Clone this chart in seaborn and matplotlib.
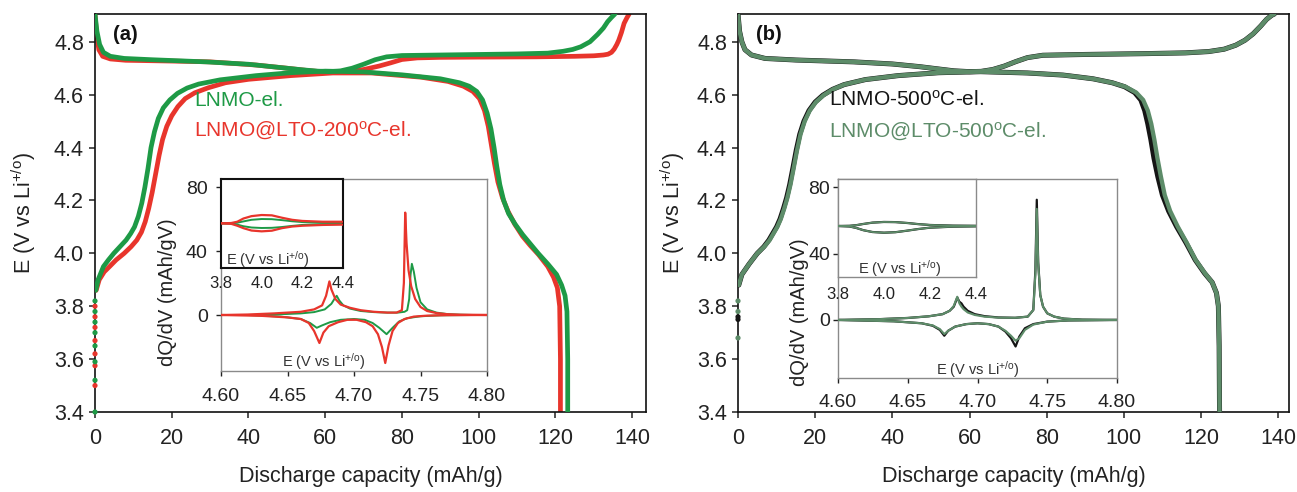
import pandas as pd
import seaborn as sns
import matplotlib.pyplot as plt

# +---------------------------+
# | Datos |
# +---------------------------+

# (a) curvas de carga (arriba) y descarga (abajo)
a_verde_x_carga = [0, 0.5, 1.2, 2.2, 4, 7.6, 15, 29, 40, 46, 50, 54, 58, 61, 64, 67, 70, 73, 76, 80,
                   90, 100, 110, 118, 122, 124.5, 126.6, 129, 131, 132.5, 133.6, 134.6, 135.5]
a_verde_y_carga = [4.905, 4.84, 4.79, 4.76, 4.745, 4.737, 4.732, 4.724, 4.715, 4.706, 4.70, 4.694, 4.689,
                   4.687, 4.690, 4.700, 4.715, 4.732, 4.743, 4.748, 4.750, 4.752, 4.754, 4.757, 4.764,
                   4.771, 4.781, 4.800, 4.828, 4.852, 4.876, 4.892, 4.905]
a_rojo_x_carga = [0, 0.4, 1, 2, 4, 8, 20, 30, 42, 50, 55, 58, 62, 66, 70, 74, 77, 80, 84, 90, 100, 115,
                  125, 130, 132.5, 133.7, 134.6, 135.3, 136, 136.5, 137.2, 137.9, 138.6, 139.2]
a_rojo_y_carga = [4.905, 4.83, 4.77, 4.745, 4.735, 4.73, 4.727, 4.724, 4.712, 4.700, 4.692, 4.688, 4.686,
                  4.688, 4.695, 4.708, 4.720, 4.733, 4.739, 4.741, 4.742, 4.743, 4.745, 4.747, 4.750,
                  4.753, 4.760, 4.772, 4.790, 4.806, 4.835, 4.87, 4.89, 4.905]

a_verde_x_desc = [0.2, 0.8, 2.2, 3.5, 4.9, 6.5, 8.1, 9.3, 10.3, 11.3, 12.2, 13.0, 13.8, 14.6, 15.5,
                  16.5, 17.8, 19.5, 21.5, 24, 27, 32.6, 42, 51, 60, 70, 80, 90, 95, 97.5, 99.5, 101,
                  102.2, 103.2, 104.0, 104.7, 105.5, 106.5, 107.8, 109.5, 111.5, 113.5, 115.5, 118,
                  120.3, 121.6, 122.5, 123.0, 123.2, 123.2]
a_verde_y_desc = [3.86, 3.90, 3.95, 3.975, 4.00, 4.025, 4.05, 4.075, 4.10, 4.14, 4.19, 4.25, 4.32,
                  4.40, 4.46, 4.51, 4.55, 4.58, 4.605, 4.625, 4.64, 4.656, 4.672, 4.683, 4.689, 4.686,
                  4.675, 4.66, 4.645, 4.632, 4.612, 4.58, 4.53, 4.47, 4.40, 4.33, 4.26, 4.20, 4.15,
                  4.11, 4.07, 4.035, 4.00, 3.96, 3.92, 3.88, 3.84, 3.78, 3.60, 3.40]
a_rojo_x_desc = [0.3, 1.1, 2.4, 3.8, 5.5, 7.6, 9.4, 10.9, 12.1, 13.1, 14.0, 14.9, 15.8, 16.7, 17.6,
                 18.7, 20.0, 21.6, 23.5, 26, 29.5, 34, 40, 51, 62, 72, 85, 92, 96, 98.5, 100.2, 101.5,
                 102.5, 103.3, 104.1, 105.0, 106.2, 107.6, 109.4, 111.4, 113.4, 115.6, 118, 119.5,
                 120.5, 121.1, 121.3, 121.3]
a_rojo_y_desc = [3.86, 3.90, 3.93, 3.95, 3.975, 4.00, 4.025, 4.05, 4.08, 4.12, 4.17, 4.23, 4.30, 4.37,
                 4.43, 4.48, 4.52, 4.555, 4.585, 4.607, 4.626, 4.645, 4.658, 4.672, 4.682, 4.682,
                 4.666, 4.65, 4.632, 4.612, 4.585, 4.54, 4.48, 4.41, 4.34, 4.27, 4.21, 4.16, 4.11,
                 4.065, 4.03, 3.995, 3.95, 3.91, 3.87, 3.80, 3.60, 3.40]

# puntos sueltos en x = 0
a_verde_puntos = [3.40, 3.52, 3.59, 3.65, 3.70, 3.74, 3.78, 3.82]
a_rojo_puntos = [3.50, 3.575, 3.62, 3.67, 3.72, 3.76, 3.80]

# (a) dQ/dV, ventana 4.60-4.80 V
a_verde_E_carga = [4.62, 4.64, 4.66, 4.670, 4.678, 4.683, 4.686, 4.687, 4.689, 4.692, 4.697, 4.705, 4.715,
                   4.725, 4.733, 4.738, 4.740, 4.7415, 4.7425, 4.7435, 4.745, 4.747, 4.750, 4.755, 4.762,
                   4.770, 4.780, 4.790]
a_verde_Q_carga = [0, 0.3, 1.0, 1.8, 3.5, 7, 11, 12, 9, 6, 4, 2.5, 1.8, 1.5, 1.5, 2, 3, 10, 25, 32, 27,
                   17, 8, 3.5, 1.5, 0.6, 0.2, 0]
a_rojo_E_carga = [4.60, 4.62, 4.64, 4.66, 4.670, 4.676, 4.679, 4.6815, 4.683, 4.686, 4.690, 4.697, 4.705,
                  4.715, 4.725, 4.732, 4.736, 4.7375, 4.7385, 4.7395, 4.741, 4.743, 4.746, 4.750, 4.755,
                  4.762, 4.770, 4.780, 4.800]
a_rojo_Q_carga = [0, 0.3, 1.0, 2.0, 3.5, 6, 12, 21, 16, 10, 6.5, 4.5, 3, 2, 1.5, 1.5, 3, 20, 64, 45, 28,
                  18, 10, 5, 2.5, 1.2, 0.5, 0.2, 0]
a_rojo_E_desc = [4.60, 4.63, 4.65, 4.660, 4.666, 4.670, 4.674, 4.677, 4.681, 4.688, 4.695, 4.702, 4.709,
                 4.714, 4.718, 4.721, 4.7235, 4.726, 4.729, 4.733, 4.738, 4.745, 4.755, 4.770, 4.800]
a_rojo_Q_desc = [0, -0.5, -1.5, -2.5, -5, -10, -17.5, -11, -7, -4.5, -3, -3, -4.5, -7, -12, -20, -30,
                 -19, -10, -5, -2.5, -1, -0.4, -0.1, 0]
a_verde_E_desc = [4.62, 4.645, 4.660, 4.667, 4.672, 4.676, 4.682, 4.690, 4.700, 4.708, 4.714, 4.719,
                  4.7245, 4.729, 4.734, 4.740, 4.750, 4.765, 4.790]
a_verde_Q_desc = [0, -1, -2.5, -5, -8, -6.5, -4.5, -3, -2.5, -3, -5, -8, -12, -8, -4, -2, -0.8, -0.2, 0]

# (a) dQ/dV, ventana 3.8-4.4 V
E_bajo = [3.80, 3.85, 3.88, 3.91, 3.95, 4.00, 4.05, 4.10, 4.15, 4.20, 4.30, 4.40]
a_rojo_bajo_arriba = [0, 0.2, 1.0, 3.0, 4.5, 5.2, 5.0, 3.5, 2.2, 1.5, 1.0, 1.0]
a_rojo_bajo_abajo = [0, -0.3, -1.5, -3.0, -4.5, -5.0, -4.6, -3.0, -2.0, -1.5, -1.0, -0.8]
a_verde_bajo_arriba = [0, 0.1, 0.4, 1.2, 2.2, 2.7, 2.6, 2.0, 1.3, 0.8, 0.4, 0.3]
a_verde_bajo_abajo = [0, -0.2, -0.8, -1.8, -2.6, -2.9, -2.8, -2.3, -1.6, -1.0, -0.5, -0.4]

# (b) curvas de carga y descarga
b_x_carga = [0, 0.4, 1, 1.8, 3.5, 7, 15, 30, 40, 47, 52, 56, 60, 63, 66, 69, 72, 75, 79, 90, 105, 116,
             122, 126, 129, 131.4, 133.5, 135.5, 137, 138.3, 139]
b_y_carga = [4.905, 4.84, 4.8, 4.77, 4.75, 4.737, 4.731, 4.724, 4.716, 4.706, 4.697, 4.69, 4.687, 4.688,
             4.695, 4.708, 4.725, 4.740, 4.749, 4.752, 4.755, 4.758, 4.763, 4.772, 4.787, 4.806, 4.83,
             4.86, 4.885, 4.90, 4.905]
b_verde_x_desc = [0.2, 1, 2.9, 5, 6.8, 8.2, 9.2, 10.2, 11.1, 12.0, 12.8, 13.6, 14.4, 15.3, 16.2, 17.3,
                  18.6, 20.2, 22.2, 24.6, 27.5, 33, 41.5, 52, 62.9, 75, 84.3, 92, 97, 100.4, 103.2,
                  105.0, 106.2, 107.1, 107.9, 108.7, 109.6, 110.6, 112.0, 114.0, 116.3, 118.6, 121,
                  122.9, 124.0, 124.5, 124.7, 124.8]
b_verde_y_desc = [3.88, 3.92, 3.96, 4.00, 4.025, 4.05, 4.075, 4.10, 4.13, 4.17, 4.21, 4.26, 4.32,
                  4.39, 4.45, 4.50, 4.54, 4.572, 4.598, 4.62, 4.638, 4.657, 4.672, 4.683, 4.687, 4.682,
                  4.674, 4.66, 4.645, 4.63, 4.608, 4.58, 4.54, 4.49, 4.43, 4.36, 4.29, 4.22, 4.16,
                  4.10, 4.04, 3.975, 3.925, 3.89, 3.85, 3.80, 3.65, 3.40]
b_negro_x_desc = [0.2, 1, 2.9, 5, 6.7, 8.0, 9.0, 10.0, 10.9, 11.8, 12.6, 13.4, 14.2, 15.1, 16.0, 17.1,
                  18.4, 20.0, 22.0, 24.5, 27.5, 33, 41.5, 52, 62.9, 75, 84.3, 92, 97, 100.2, 102.8,
                  104.4, 105.4, 106.2, 107.0, 107.8, 108.8, 110.0, 111.6, 113.7, 116.1, 118.5, 120.9,
                  122.9, 124.0, 124.5, 124.7, 124.8]
b_negro_y_desc = [3.88, 3.92, 3.96, 4.00, 4.025, 4.05, 4.075, 4.10, 4.13, 4.17, 4.21, 4.26, 4.32,
                  4.39, 4.45, 4.50, 4.54, 4.572, 4.598, 4.62, 4.638, 4.657, 4.672, 4.683, 4.687, 4.682,
                  4.674, 4.66, 4.645, 4.63, 4.608, 4.58, 4.54, 4.49, 4.43, 4.36, 4.29, 4.22, 4.16,
                  4.10, 4.04, 3.975, 3.925, 3.89, 3.85, 3.80, 3.65, 3.40]
b_verde_puntos = [3.68, 3.78, 3.82]
b_negro_puntos = [3.75, 3.76]

# (b) dQ/dV, ventana 4.60-4.80 V
b_E_carga = [4.60, 4.63, 4.65, 4.665, 4.675, 4.680, 4.683, 4.6855, 4.687, 4.6885, 4.690, 4.693, 4.698,
             4.705, 4.715, 4.727, 4.736, 4.740, 4.7415, 4.7425, 4.7435, 4.745, 4.747, 4.750, 4.755,
             4.762, 4.775, 4.800]
b_negro_Q_carga = [0, 0.5, 1.2, 2.2, 3.5, 5.5, 8, 13.5, 11, 10, 8, 5.5, 3.5, 2.3, 1.5, 1.3, 2, 6, 30,
                   72.5, 35, 15, 8, 4, 2, 0.8, 0.2, 0]
b_verde_Q_carga = [0, 0.5, 1.2, 2.2, 3.5, 5.5, 8.5, 14, 10, 8, 6.5, 4.5, 3, 2, 1.4, 1.3, 2, 6, 28, 67,
                   34, 15, 8, 4, 2, 0.8, 0.2, 0]
b_E_desc = [4.60, 4.64, 4.660, 4.668, 4.673, 4.6762, 4.679, 4.684, 4.692, 4.700, 4.708, 4.715, 4.720,
            4.724, 4.7273, 4.730, 4.734, 4.740, 4.750, 4.765, 4.800]
b_negro_Q_desc = [0, -0.8, -2, -3.5, -6, -9.5, -6.5, -4, -2.5, -2, -2.5, -4, -7, -11, -16, -10, -5,
                  -2.5, -1, -0.3, 0]
b_verde_Q_desc = [0, -0.8, -2, -3.3, -5.5, -8.5, -6.5, -4, -2.5, -2, -2.5, -4, -6.5, -9.5, -12.5, -11,
                  -6, -2.8, -1, -0.3, 0]

# (b) dQ/dV, ventana 3.8-4.4 V
b_bajo_arriba = [0, 0.1, 0.5, 1.2, 2.0, 2.4, 2.3, 1.8, 1.1, 0.6, 0.2, 0.1]
b_bajo_abajo = [0, -0.3, -1.2, -2.5, -3.6, -4.0, -3.7, -2.8, -1.8, -1.0, -0.4, -0.2]

VERDE = '#1e9a46'
ROJO = '#e8352c'
NEGRO = '#151515'
GRIS_VERDE = '#5d8c69'

# +---------------------------+
# | Estilo                    |
# +---------------------------+
sns.set_style("ticks")
plt.rcParams['font.family'] = ['Liberation Sans', 'DejaVu Sans']
plt.rcParams['mathtext.fontset'] = 'custom'
plt.rcParams['mathtext.rm'] = 'Liberation Sans'
plt.rcParams['mathtext.it'] = 'Liberation Sans'
plt.rcParams['mathtext.default'] = 'regular'

W, H = 1297, 492
fig = plt.figure(figsize=(W / 100, H / 100), dpi=100)
fig.patch.set_facecolor('white')


def caja(x0, y0, x1, y1):
    # pixeles (origen arriba-izquierda) -> fracciones de figura
    return [x0 / W, 1 - y1 / H, (x1 - x0) / W, (y1 - y0) / H]


def linea(ax, x, y, color, lw, z=2):
    d = pd.DataFrame({'x': x, 'y': y})
    sns.lineplot(data=d, x='x', y='y', ax=ax, color=color, linewidth=lw,
                 sort=False, estimator=None, zorder=z)


def puntos(ax, y, color):
    d = pd.DataFrame({'x': [0] * len(y), 'y': y})
    sns.scatterplot(data=d, x='x', y='y', ax=ax, color=color, s=14, edgecolor='none',
                    zorder=4, clip_on=False)


def principal(box, xmax):
    ax = fig.add_axes(caja(*box))
    ax.set_xlim(0, xmax)
    ax.set_ylim(3.4, 4.905)
    ax.set_xticks(range(0, 141, 20))
    ax.set_yticks([3.4, 3.6, 3.8, 4.0, 4.2, 4.4, 4.6, 4.8])
    ax.set_yticklabels(['3.4', '3.6', '3.8', '4.0', '4.2', '4.4', '4.6', '4.8'])
    ax.tick_params(labelsize=15.5, length=4, width=1.1, direction='out', pad=4, colors='#222222')
    ax.tick_params(axis='x', pad=7.5)
    for s in ax.spines.values():
        s.set_visible(True)
        s.set_linewidth(1.2)
        s.set_color('#111111')
    return ax


def etiquetas(ax, xl):
    ax.set_xlabel('Discharge capacity (mAh/g)', fontsize=15.5, color='#222222')
    ax.set_ylabel('E (V vs Li$^{+/o}$)', fontsize=15.5, color='#222222')
    ax.xaxis.set_label_coords(0.5, -0.135)
    ax.yaxis.set_label_coords(xl, 0.5)


def recuadro(box):
    ax = fig.add_axes(caja(*box))
    ax.set_facecolor('white')
    return ax


def formato_recuadro(ax, ylab_xy, pad_x, pad_y, color_borde):
    ax.set_xlim(4.6, 4.8)
    ax.set_ylim(-35, 85)
    ax.set_xticks([4.60, 4.65, 4.70, 4.75, 4.80])
    ax.set_xticklabels(['4.60', '4.65', '4.70', '4.75', '4.80'])
    ax.set_yticks([0, 40, 80])
    ax.set_yticklabels(['0', '40', '80'])
    ax.tick_params(labelsize=14, length=3.5, width=1, direction='out', colors='#222222')
    ax.tick_params(axis='x', pad=pad_x)
    ax.tick_params(axis='y', pad=pad_y)
    for s in ax.spines.values():
        s.set_visible(True)
        s.set_linewidth(1)
        s.set_color(color_borde)
    ax.set_xlabel('')
    ax.set_ylabel('dQ/dV (mAh/gV)', fontsize=14.5, color='#222222')
    ax.yaxis.set_label_coords(*ylab_xy)


def formato_mini(ax, ylim, pad_x, color_borde, lw_borde):
    ax.set_xlim(3.8, 4.4)
    ax.set_ylim(*ylim)
    ax.set_xticks([3.8, 4.0, 4.2, 4.4])
    ax.set_xticklabels(['3.8', '4.0', '4.2', '4.4'])
    ax.set_yticks([])
    ax.tick_params(axis='x', labelsize=12, length=0, pad=pad_x, colors='#222222')
    for s in ax.spines.values():
        s.set_visible(True)
        s.set_linewidth(lw_borde)
        s.set_color(color_borde)
    ax.set_xlabel('')
    ax.set_ylabel('')


def texto_E(ax, x, y, size):
    ax.text(x, y, 'E (V vs Li$^{+/o}$)', transform=ax.transAxes, ha='center', va='center',
            fontsize=size, color='#333333')


# +---------------------------+
# | Panel (a)                 |
# +---------------------------+
axa = principal((95, 14, 646, 412), 143.6)
linea(axa, a_rojo_x_carga, a_rojo_y_carga, ROJO, 3.4)
linea(axa, a_rojo_x_desc, a_rojo_y_desc, ROJO, 3.4)
linea(axa, a_verde_x_carga, a_verde_y_carga, VERDE, 3.4, 3)
linea(axa, a_verde_x_desc, a_verde_y_desc, VERDE, 3.4, 3)
puntos(axa, a_rojo_puntos, ROJO)
puntos(axa, a_verde_puntos, VERDE)
etiquetas(axa, -0.103)
fig.text(113 / W, 1 - 35 / H, '(a)', fontsize=14.5, fontweight='bold', va='center', color='#111111')
fig.text(194 / W, 1 - 100 / H, 'LNMO-el.', fontsize=15, color=VERDE, va='center')
fig.text(194 / W, 1 - 131 / H, 'LNMO@LTO-200$^{o}$C-el.', fontsize=15, color=ROJO, va='center')

ia = recuadro((221, 179, 487, 371))
linea(ia, a_verde_E_carga, a_verde_Q_carga, VERDE, 1.4)
linea(ia, a_verde_E_desc, a_verde_Q_desc, VERDE, 1.4)
linea(ia, a_rojo_E_carga, a_rojo_Q_carga, ROJO, 1.6, 3)
linea(ia, a_rojo_E_desc, a_rojo_Q_desc, ROJO, 1.6, 3)
formato_recuadro(ia, (-0.165, 0.41), 8.5, 6, '#8a8a8a')
texto_E(ia, 0.385, 0.05, 10.5)

ma = recuadro((221, 179, 343, 268))
linea(ma, E_bajo, a_verde_bajo_arriba, VERDE, 1.4)
linea(ma, E_bajo, a_verde_bajo_abajo, VERDE, 1.4)
linea(ma, E_bajo, a_rojo_bajo_arriba, ROJO, 1.6, 3)
linea(ma, E_bajo, a_rojo_bajo_abajo, ROJO, 1.6, 3)
formato_mini(ma, (-27.9, 27.7), 6, '#111111', 1.5)
texto_E(ma, 0.38, 0.10, 10.5)

# +---------------------------+
# | Panel (b)                 |
# +---------------------------+
axb = principal((738, 14, 1289, 412), 142.8)
linea(axb, b_x_carga, b_y_carga, NEGRO, 3.6)
linea(axb, b_negro_x_desc, b_negro_y_desc, NEGRO, 3.6)
linea(axb, b_x_carga, b_y_carga, GRIS_VERDE, 3.1, 3)
linea(axb, b_verde_x_desc, b_verde_y_desc, GRIS_VERDE, 3.1, 3)
puntos(axb, b_negro_puntos, NEGRO)
puntos(axb, b_verde_puntos, GRIS_VERDE)
etiquetas(axb, -0.093)
fig.text(756 / W, 1 - 35 / H, '(b)', fontsize=14.5, fontweight='bold', va='center', color='#111111')
fig.text(829 / W, 1 - 100 / H, 'LNMO-500$^{o}$C-el.', fontsize=15, color=NEGRO, va='center')
fig.text(829 / W, 1 - 132 / H, 'LNMO@LTO-500$^{o}$C-el.', fontsize=15, color=GRIS_VERDE, va='center')

ib = recuadro((838, 179, 1117, 378))
linea(ib, b_E_carga, b_negro_Q_carga, NEGRO, 1.6)
linea(ib, b_E_desc, b_negro_Q_desc, NEGRO, 1.6)
linea(ib, b_E_carga, b_verde_Q_carga, GRIS_VERDE, 1.5, 3)
linea(ib, b_E_desc, b_verde_Q_desc, GRIS_VERDE, 1.5, 3)
formato_recuadro(ib, (-0.105, 0.33), 8, 2, '#8a8a8a')
texto_E(ib, 0.50, 0.04, 10.5)

mb = recuadro((838, 179, 976, 277))
linea(mb, E_bajo, b_bajo_arriba, NEGRO, 1.6)
linea(mb, E_bajo, b_bajo_abajo, NEGRO, 1.6)
linea(mb, E_bajo, b_bajo_arriba, GRIS_VERDE, 1.3, 3)
linea(mb, E_bajo, b_bajo_abajo, GRIS_VERDE, 1.3, 3)
formato_mini(mb, (-30.4, 28), 7, '#8a8a8a', 1.0)
texto_E(mb, 0.45, 0.09, 10.5)

fig.savefig('out.png', dpi=100)
